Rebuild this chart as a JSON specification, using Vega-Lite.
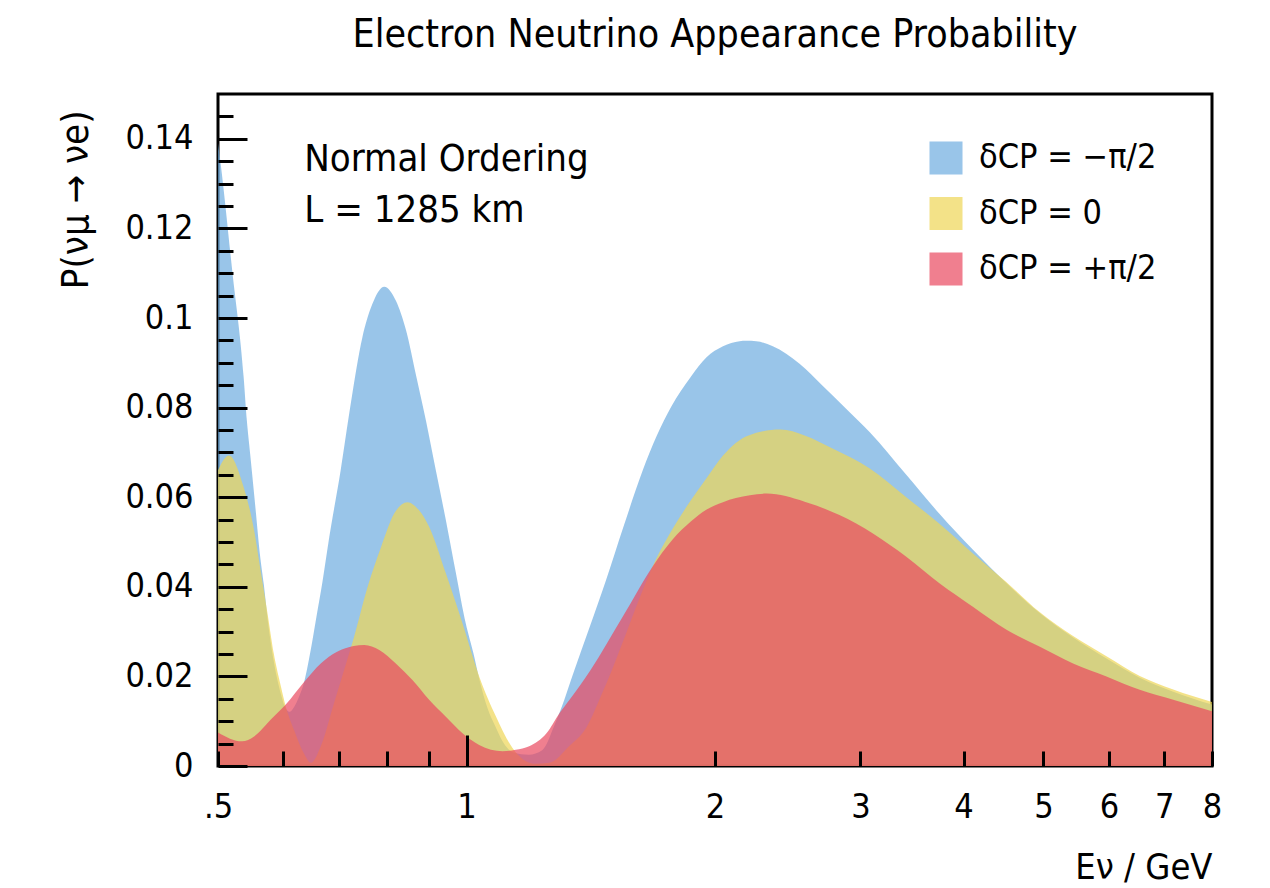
{
  "$schema": "https://vega.github.io/schema/vega-lite/v6.json",
  "width": 994,
  "height": 672,
  "autosize": {"type": "none"},
  "padding": {"left": 218, "top": 94, "right": 58, "bottom": 122},
  "config": {
    "font": "DejaVu Sans Condensed",
    "view": {"stroke": "black", "strokeWidth": 3},
    "axis": {"grid": false, "domain": false, "tickColor": "black", "tickWidth": 3, "labelColor": "black", "titleColor": "black", "labelFont": "DejaVu Sans Condensed", "titleFont": "DejaVu Sans Condensed", "labelFontSize": 34, "titleFontSize": 36, "titleFontWeight": "normal", "zindex": 2, "labelFlush": false, "labelOverlap": false},
    "legend": {"labelFont": "DejaVu Sans Condensed", "labelFontSize": 34, "labelColor": "black", "labelLimit": 500},
    "title": {"font": "DejaVu Sans Condensed", "fontSize": 39, "fontWeight": "normal", "color": "black"}
  },
  "title": {"text": "Electron Neutrino Appearance Probability", "anchor": "middle", "baseline": "alphabetic", "offset": 8},
  "data": {"values": [
    {"E": 0.5, "P": 0.139, "delta": "δCP = −π/2"},
    {"E": 0.5038, "P": 0.1343, "delta": "δCP = −π/2"},
    {"E": 0.5203, "P": 0.1105, "delta": "δCP = −π/2"},
    {"E": 0.5371, "P": 0.0868, "delta": "δCP = −π/2"},
    {"E": 0.5419, "P": 0.0771, "delta": "δCP = −π/2"},
    {"E": 0.5469, "P": 0.0697, "delta": "δCP = −π/2"},
    {"E": 0.5544, "P": 0.0586, "delta": "δCP = −π/2"},
    {"E": 0.5619, "P": 0.0474, "delta": "δCP = −π/2"},
    {"E": 0.5682, "P": 0.0405, "delta": "δCP = −π/2"},
    {"E": 0.574, "P": 0.033, "delta": "δCP = −π/2"},
    {"E": 0.584, "P": 0.0235, "delta": "δCP = −π/2"},
    {"E": 0.596, "P": 0.016, "delta": "δCP = −π/2"},
    {"E": 0.604, "P": 0.0128, "delta": "δCP = −π/2"},
    {"E": 0.611, "P": 0.0121, "delta": "δCP = −π/2"},
    {"E": 0.618, "P": 0.0131, "delta": "δCP = −π/2"},
    {"E": 0.627, "P": 0.0155, "delta": "δCP = −π/2"},
    {"E": 0.636, "P": 0.0188, "delta": "δCP = −π/2"},
    {"E": 0.647, "P": 0.0255, "delta": "δCP = −π/2"},
    {"E": 0.657, "P": 0.0326, "delta": "δCP = −π/2"},
    {"E": 0.669, "P": 0.041, "delta": "δCP = −π/2"},
    {"E": 0.682, "P": 0.0511, "delta": "δCP = −π/2"},
    {"E": 0.704, "P": 0.066, "delta": "δCP = −π/2"},
    {"E": 0.724, "P": 0.0808, "delta": "δCP = −π/2"},
    {"E": 0.748, "P": 0.0957, "delta": "δCP = −π/2"},
    {"E": 0.769, "P": 0.1031, "delta": "δCP = −π/2"},
    {"E": 0.795, "P": 0.107, "delta": "δCP = −π/2"},
    {"E": 0.821, "P": 0.1039, "delta": "δCP = −π/2"},
    {"E": 0.845, "P": 0.0972, "delta": "δCP = −π/2"},
    {"E": 0.868, "P": 0.0875, "delta": "δCP = −π/2"},
    {"E": 0.893, "P": 0.0771, "delta": "δCP = −π/2"},
    {"E": 0.918, "P": 0.066, "delta": "δCP = −π/2"},
    {"E": 0.944, "P": 0.0549, "delta": "δCP = −π/2"},
    {"E": 0.971, "P": 0.043, "delta": "δCP = −π/2"},
    {"E": 0.998, "P": 0.0318, "delta": "δCP = −π/2"},
    {"E": 1.02, "P": 0.025, "delta": "δCP = −π/2"},
    {"E": 1.036, "P": 0.0195, "delta": "δCP = −π/2"},
    {"E": 1.06, "P": 0.013, "delta": "δCP = −π/2"},
    {"E": 1.086, "P": 0.0085, "delta": "δCP = −π/2"},
    {"E": 1.11, "P": 0.005, "delta": "δCP = −π/2"},
    {"E": 1.14, "P": 0.003, "delta": "δCP = −π/2"},
    {"E": 1.19, "P": 0.0025, "delta": "δCP = −π/2"},
    {"E": 1.235, "P": 0.0035, "delta": "δCP = −π/2"},
    {"E": 1.255, "P": 0.0055, "delta": "δCP = −π/2"},
    {"E": 1.272, "P": 0.0082, "delta": "δCP = −π/2"},
    {"E": 1.3, "P": 0.0125, "delta": "δCP = −π/2"},
    {"E": 1.351, "P": 0.0214, "delta": "δCP = −π/2"},
    {"E": 1.41, "P": 0.031, "delta": "δCP = −π/2"},
    {"E": 1.476, "P": 0.0415, "delta": "δCP = −π/2"},
    {"E": 1.55, "P": 0.0535, "delta": "δCP = −π/2"},
    {"E": 1.635, "P": 0.066, "delta": "δCP = −π/2"},
    {"E": 1.7, "P": 0.0737, "delta": "δCP = −π/2"},
    {"E": 1.77, "P": 0.0802, "delta": "δCP = −π/2"},
    {"E": 1.868, "P": 0.0868, "delta": "δCP = −π/2"},
    {"E": 1.952, "P": 0.0912, "delta": "δCP = −π/2"},
    {"E": 2.045, "P": 0.0937, "delta": "δCP = −π/2"},
    {"E": 2.142, "P": 0.0948, "delta": "δCP = −π/2"},
    {"E": 2.182, "P": 0.0949, "delta": "δCP = −π/2"},
    {"E": 2.244, "P": 0.0948, "delta": "δCP = −π/2"},
    {"E": 2.35, "P": 0.0937, "delta": "δCP = −π/2"},
    {"E": 2.532, "P": 0.0898, "delta": "δCP = −π/2"},
    {"E": 2.7, "P": 0.0849, "delta": "δCP = −π/2"},
    {"E": 2.885, "P": 0.0797, "delta": "δCP = −π/2"},
    {"E": 3.08, "P": 0.0745, "delta": "δCP = −π/2"},
    {"E": 3.41, "P": 0.065, "delta": "δCP = −π/2"},
    {"E": 3.74, "P": 0.0563, "delta": "δCP = −π/2"},
    {"E": 4.11, "P": 0.0482, "delta": "δCP = −π/2"},
    {"E": 4.51, "P": 0.0408, "delta": "δCP = −π/2"},
    {"E": 4.95, "P": 0.0341, "delta": "δCP = −π/2"},
    {"E": 5.43, "P": 0.0287, "delta": "δCP = −π/2"},
    {"E": 5.96, "P": 0.024, "delta": "δCP = −π/2"},
    {"E": 6.54, "P": 0.0197, "delta": "δCP = −π/2"},
    {"E": 7.18, "P": 0.0166, "delta": "δCP = −π/2"},
    {"E": 8.0, "P": 0.0137, "delta": "δCP = −π/2"},

    {"E": 0.5, "P": 0.066, "delta": "δCP = 0"},
    {"E": 0.5155, "P": 0.0693, "delta": "δCP = 0"},
    {"E": 0.537, "P": 0.0623, "delta": "δCP = 0"},
    {"E": 0.553, "P": 0.0526, "delta": "δCP = 0"},
    {"E": 0.563, "P": 0.0437, "delta": "δCP = 0"},
    {"E": 0.574, "P": 0.0341, "delta": "δCP = 0"},
    {"E": 0.584, "P": 0.0252, "delta": "δCP = 0"},
    {"E": 0.596, "P": 0.0177, "delta": "δCP = 0"},
    {"E": 0.604, "P": 0.0133, "delta": "δCP = 0"},
    {"E": 0.618, "P": 0.0081, "delta": "δCP = 0"},
    {"E": 0.635, "P": 0.0029, "delta": "δCP = 0"},
    {"E": 0.648, "P": 0.0007, "delta": "δCP = 0"},
    {"E": 0.666, "P": 0.0044, "delta": "δCP = 0"},
    {"E": 0.691, "P": 0.014, "delta": "δCP = 0"},
    {"E": 0.717, "P": 0.0237, "delta": "δCP = 0"},
    {"E": 0.73, "P": 0.0285, "delta": "δCP = 0"},
    {"E": 0.759, "P": 0.04, "delta": "δCP = 0"},
    {"E": 0.788, "P": 0.0489, "delta": "δCP = 0"},
    {"E": 0.817, "P": 0.0563, "delta": "δCP = 0"},
    {"E": 0.848, "P": 0.0589, "delta": "δCP = 0"},
    {"E": 0.875, "P": 0.0572, "delta": "δCP = 0"},
    {"E": 0.901, "P": 0.0534, "delta": "δCP = 0"},
    {"E": 0.944, "P": 0.043, "delta": "δCP = 0"},
    {"E": 0.989, "P": 0.0318, "delta": "δCP = 0"},
    {"E": 1.036, "P": 0.02, "delta": "δCP = 0"},
    {"E": 1.086, "P": 0.011, "delta": "δCP = 0"},
    {"E": 1.137, "P": 0.004, "delta": "δCP = 0"},
    {"E": 1.17, "P": 0.0015, "delta": "δCP = 0"},
    {"E": 1.21, "P": 0.0005, "delta": "δCP = 0"},
    {"E": 1.26, "P": 0.0007, "delta": "δCP = 0"},
    {"E": 1.333, "P": 0.0045, "delta": "δCP = 0"},
    {"E": 1.396, "P": 0.0085, "delta": "δCP = 0"},
    {"E": 1.462, "P": 0.0165, "delta": "δCP = 0"},
    {"E": 1.497, "P": 0.021, "delta": "δCP = 0"},
    {"E": 1.532, "P": 0.0257, "delta": "δCP = 0"},
    {"E": 1.605, "P": 0.0355, "delta": "δCP = 0"},
    {"E": 1.68, "P": 0.0445, "delta": "δCP = 0"},
    {"E": 1.778, "P": 0.053, "delta": "δCP = 0"},
    {"E": 1.868, "P": 0.0592, "delta": "δCP = 0"},
    {"E": 1.952, "P": 0.0642, "delta": "δCP = 0"},
    {"E": 2.045, "P": 0.0693, "delta": "δCP = 0"},
    {"E": 2.196, "P": 0.0738, "delta": "δCP = 0"},
    {"E": 2.4, "P": 0.0751, "delta": "δCP = 0"},
    {"E": 2.568, "P": 0.0738, "delta": "δCP = 0"},
    {"E": 2.78, "P": 0.0708, "delta": "δCP = 0"},
    {"E": 3.08, "P": 0.0664, "delta": "δCP = 0"},
    {"E": 3.41, "P": 0.06, "delta": "δCP = 0"},
    {"E": 3.74, "P": 0.0541, "delta": "δCP = 0"},
    {"E": 4.11, "P": 0.0474, "delta": "δCP = 0"},
    {"E": 4.51, "P": 0.041, "delta": "δCP = 0"},
    {"E": 4.95, "P": 0.0343, "delta": "δCP = 0"},
    {"E": 5.43, "P": 0.029, "delta": "δCP = 0"},
    {"E": 5.96, "P": 0.0245, "delta": "δCP = 0"},
    {"E": 6.54, "P": 0.0201, "delta": "δCP = 0"},
    {"E": 7.18, "P": 0.0171, "delta": "δCP = 0"},
    {"E": 8.0, "P": 0.0143, "delta": "δCP = 0"},

    {"E": 0.5, "P": 0.0075, "delta": "δCP = +π/2"},
    {"E": 0.5347, "P": 0.0055, "delta": "δCP = +π/2"},
    {"E": 0.553, "P": 0.0066, "delta": "δCP = +π/2"},
    {"E": 0.579, "P": 0.0103, "delta": "δCP = +π/2"},
    {"E": 0.604, "P": 0.0137, "delta": "δCP = +π/2"},
    {"E": 0.636, "P": 0.0188, "delta": "δCP = +π/2"},
    {"E": 0.666, "P": 0.0229, "delta": "δCP = +π/2"},
    {"E": 0.697, "P": 0.0255, "delta": "δCP = +π/2"},
    {"E": 0.73, "P": 0.0268, "delta": "δCP = +π/2"},
    {"E": 0.752, "P": 0.027, "delta": "δCP = +π/2"},
    {"E": 0.784, "P": 0.0259, "delta": "δCP = +π/2"},
    {"E": 0.821, "P": 0.0229, "delta": "δCP = +π/2"},
    {"E": 0.86, "P": 0.0192, "delta": "δCP = +π/2"},
    {"E": 0.901, "P": 0.0148, "delta": "δCP = +π/2"},
    {"E": 0.944, "P": 0.011, "delta": "δCP = +π/2"},
    {"E": 0.989, "P": 0.0073, "delta": "δCP = +π/2"},
    {"E": 1.036, "P": 0.0047, "delta": "δCP = +π/2"},
    {"E": 1.106, "P": 0.0033, "delta": "δCP = +π/2"},
    {"E": 1.147, "P": 0.0036, "delta": "δCP = +π/2"},
    {"E": 1.191, "P": 0.0044, "delta": "δCP = +π/2"},
    {"E": 1.25, "P": 0.0073, "delta": "δCP = +π/2"},
    {"E": 1.296, "P": 0.0118, "delta": "δCP = +π/2"},
    {"E": 1.333, "P": 0.0148, "delta": "δCP = +π/2"},
    {"E": 1.413, "P": 0.0214, "delta": "δCP = +π/2"},
    {"E": 1.546, "P": 0.0333, "delta": "δCP = +π/2"},
    {"E": 1.68, "P": 0.0445, "delta": "δCP = +π/2"},
    {"E": 1.778, "P": 0.0506, "delta": "δCP = +π/2"},
    {"E": 1.868, "P": 0.0545, "delta": "δCP = +π/2"},
    {"E": 1.952, "P": 0.0572, "delta": "δCP = +π/2"},
    {"E": 2.045, "P": 0.0589, "delta": "δCP = +π/2"},
    {"E": 2.12, "P": 0.0598, "delta": "δCP = +π/2"},
    {"E": 2.31, "P": 0.0608, "delta": "δCP = +π/2"},
    {"E": 2.568, "P": 0.059, "delta": "δCP = +π/2"},
    {"E": 2.83, "P": 0.056, "delta": "δCP = +π/2"},
    {"E": 3.107, "P": 0.0519, "delta": "δCP = +π/2"},
    {"E": 3.41, "P": 0.0467, "delta": "δCP = +π/2"},
    {"E": 3.74, "P": 0.0408, "delta": "δCP = +π/2"},
    {"E": 4.11, "P": 0.0355, "delta": "δCP = +π/2"},
    {"E": 4.51, "P": 0.0304, "delta": "δCP = +π/2"},
    {"E": 4.95, "P": 0.0266, "delta": "δCP = +π/2"},
    {"E": 5.43, "P": 0.0229, "delta": "δCP = +π/2"},
    {"E": 5.96, "P": 0.02, "delta": "δCP = +π/2"},
    {"E": 6.54, "P": 0.017, "delta": "δCP = +π/2"},
    {"E": 7.18, "P": 0.0148, "delta": "δCP = +π/2"},
    {"E": 8.0, "P": 0.0122, "delta": "δCP = +π/2"}
  ]},
  "layer": [
    {
      "transform": [{"filter": "datum.delta == 'δCP = −π/2'"}],
      "mark": {"type": "area", "interpolate": "monotone", "opacity": 0.7},
      "encoding": {
        "x": {"field": "E", "type": "quantitative",
          "scale": {"type": "log", "domain": [0.5, 8], "nice": false},
          "axis": {"orient": "bottom", "zindex": 2, "tickWidth": 3, "values": [0.5, 0.6, 0.7, 0.8, 0.9, 1, 2, 3, 4, 5, 6, 7, 8], "tickSize": -15, "labelPadding": 39, "labelBaseline": "top",
            "labelExpr": "datum.value == 0.5 ? '.5' : (datum.value < 1 ? '' : format(datum.value, 'd'))",
            "title": "Eν / GeV", "titleX": 994, "titleY": 112, "titleAlign": "right", "titleBaseline": "alphabetic"}},
        "y": {"field": "P", "type": "quantitative",
          "scale": {"domain": [0, 0.15], "nice": false, "zero": true},
          "axis": {"orient": "left", "zindex": 2, "tickWidth": 3, "values": [0, 0.02, 0.04, 0.06, 0.08, 0.1, 0.12, 0.14], "tickSize": -29, "labelPadding": 54, "format": ".2~f", "labelBaseline": "middle",
            "title": "P(νμ → νe)", "titleFontSize": 38, "titleAngle": -90, "titleX": -131, "titleY": 16, "titleAlign": "right", "titleBaseline": "alphabetic"}},
        "color": {"field": "delta", "type": "nominal",
          "scale": {"domain": ["δCP = −π/2", "δCP = 0", "δCP = +π/2"], "range": ["#6eaddf", "#eed655", "#e9495f"]},
          "legend": {"title": null, "orient": "none", "legendX": 711, "legendY": 47, "symbolType": "square", "symbolSize": 1089, "symbolOpacity": 1, "symbolStrokeWidth": 0, "labelOffset": 16, "rowPadding": 21.5, "padding": 0, "labelLimit": 500}}
      }
    },
    {
      "transform": [{"filter": "datum.delta == 'δCP = 0'"}],
      "mark": {"type": "area", "interpolate": "monotone", "opacity": 0.7},
      "encoding": {
        "x": {"field": "E", "type": "quantitative",
          "axis": {"orient": "bottom", "zindex": 2, "tickWidth": 3, "values": [1], "tickSize": -31, "labels": false, "title": null}},
        "y": {"field": "P", "type": "quantitative",
          "axis": {"orient": "left", "zindex": 2, "tickWidth": 3, "values": [0.005, 0.01, 0.015, 0.025, 0.03, 0.035, 0.045, 0.05, 0.055, 0.065, 0.07, 0.075, 0.085, 0.09, 0.095, 0.105, 0.11, 0.115, 0.125, 0.13, 0.135, 0.145], "tickSize": -15, "labels": false, "title": null}},
        "color": {"field": "delta", "type": "nominal"}
      }
    },
    {
      "transform": [{"filter": "datum.delta == 'δCP = +π/2'"}],
      "mark": {"type": "area", "interpolate": "monotone", "opacity": 0.7},
      "encoding": {
        "x": {"field": "E", "type": "quantitative", "axis": null},
        "y": {"field": "P", "type": "quantitative", "axis": null},
        "color": {"field": "delta", "type": "nominal"}
      }
    },
    {
      "data": {"values": [{}]},
      "mark": {"type": "text", "text": ["Normal Ordering", "L = 1285 km"], "align": "left", "baseline": "alphabetic", "fontSize": 38, "lineHeight": 51, "font": "DejaVu Sans Condensed", "color": "black"},
      "encoding": {
        "x": {"datum": 0.636, "type": "quantitative", "axis": null},
        "y": {"datum": 0.1328, "type": "quantitative", "axis": null}
      }
    }
  ],
  "resolve": {"axis": {"x": "independent", "y": "independent"}}
}
